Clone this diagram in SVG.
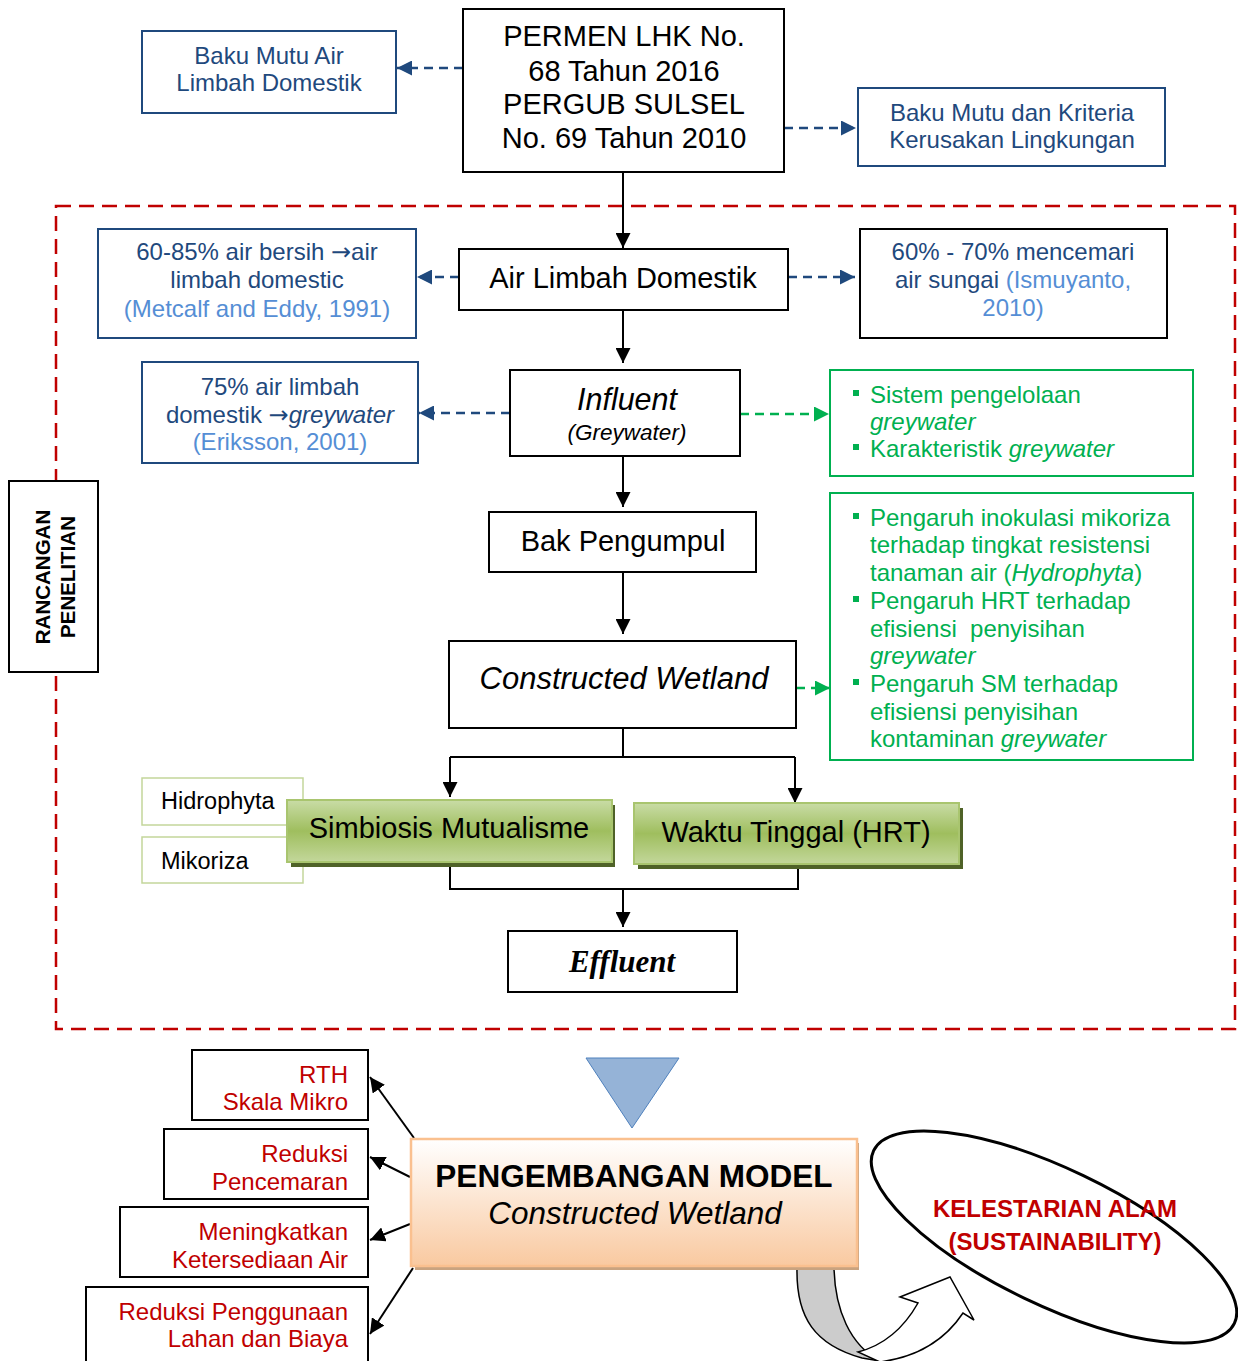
<svg xmlns="http://www.w3.org/2000/svg" width="1238" height="1361" viewBox="0 0 1238 1361">
<defs>
<style>
text{font-family:"Liberation Sans",Arial,"DejaVu Sans",sans-serif}
.box{fill:#fff;stroke:#000;stroke-width:2}
.bbox{fill:#fff;stroke:#1F497D;stroke-width:2}
.gbox{fill:#fff;stroke:#00B050;stroke-width:2}
.lbox{fill:#fff;stroke:#C3D69B;stroke-width:1.5}
.blue{fill:#1F497D;font-size:24px}
.cite{fill:#558ED5}
.green{fill:#00B050;font-size:24px}
.red{fill:#C00000;font-size:24px}
.blk{fill:#000}
.c{text-anchor:middle}
.e{text-anchor:end}
.i{font-style:italic}
.arr{font-family:"DejaVu Sans",sans-serif}
.bl{fill:#00B050}
.ln{fill:none;stroke:#000;stroke-width:2}
.dashb{fill:none;stroke:#1F497D;stroke-width:2.5;stroke-dasharray:9 6}
.dashg{fill:none;stroke:#00B050;stroke-width:2.5;stroke-dasharray:9 6}
</style>
<marker id="ab" markerUnits="userSpaceOnUse" markerWidth="15" markerHeight="15" viewBox="0 0 15 15" refX="15" refY="7.5" orient="auto"><path d="M0,0 L15,7.5 L0,15 z" fill="#000"/></marker>
<marker id="au" markerUnits="userSpaceOnUse" markerWidth="15" markerHeight="15" viewBox="0 0 15 15" refX="15" refY="7.5" orient="auto"><path d="M0,0 L15,7.5 L0,15 z" fill="#1F497D"/></marker>
<marker id="ag" markerUnits="userSpaceOnUse" markerWidth="15" markerHeight="15" viewBox="0 0 15 15" refX="15" refY="7.5" orient="auto"><path d="M0,0 L15,7.5 L0,15 z" fill="#00B050"/></marker>
<linearGradient id="gg" x1="0" y1="0" x2="0" y2="1">
<stop offset="0" stop-color="#C9DCA6"/><stop offset="0.5" stop-color="#9FBE5E"/><stop offset="1" stop-color="#C3D79B"/>
</linearGradient>
<linearGradient id="og" x1="0" y1="0" x2="0" y2="1">
<stop offset="0" stop-color="#FFFFFF"/><stop offset="1" stop-color="#F9C9A0"/>
</linearGradient>
</defs>
<rect width="1238" height="1361" fill="#fff"/>

<!-- research frame -->
<rect id="frame" x="56" y="206" width="1179" height="823" fill="none" stroke="#C00000" stroke-width="2.5" stroke-dasharray="15 8"/>

<g id="connectors">
<line class="dashb" x1="463" y1="68" x2="397" y2="68" marker-end="url(#au)"/>
<line class="dashb" x1="784" y1="128" x2="856" y2="128" marker-end="url(#au)"/>
<line class="ln" x1="623" y1="172" x2="623" y2="248" marker-end="url(#ab)"/>
<line class="dashb" x1="459" y1="277" x2="417" y2="277" marker-end="url(#au)"/>
<line class="dashb" x1="788" y1="277" x2="855" y2="277" marker-end="url(#au)"/>
<line class="ln" x1="623" y1="310" x2="623" y2="363" marker-end="url(#ab)"/>
<line class="dashb" x1="510" y1="413" x2="419" y2="413" marker-end="url(#au)"/>
<line class="dashg" x1="740" y1="414" x2="829" y2="414" marker-end="url(#ag)"/>
<line class="ln" x1="623" y1="456" x2="623" y2="507" marker-end="url(#ab)"/>
<line class="ln" x1="623" y1="572" x2="623" y2="634" marker-end="url(#ab)"/>
<line class="dashg" x1="796" y1="688" x2="830" y2="688" marker-end="url(#ag)"/>
<polyline class="ln" points="623,728 623,757"/>
<polyline class="ln" points="450,757 795,757"/>
<line class="ln" x1="450" y1="757" x2="450" y2="797" marker-end="url(#ab)"/>
<line class="ln" x1="795" y1="757" x2="795" y2="803" marker-end="url(#ab)"/>
<polyline class="ln" points="450,866 450,889 798,889 798,868"/>
<line class="ln" x1="623" y1="889" x2="623" y2="927" marker-end="url(#ab)"/>
<line class="ln" x1="414" y1="1138" x2="370" y2="1077" marker-end="url(#ab)"/>
<line class="ln" x1="410" y1="1177" x2="370" y2="1157" marker-end="url(#ab)"/>
<line class="ln" x1="410" y1="1224" x2="370" y2="1240" marker-end="url(#ab)"/>
<line class="ln" x1="413" y1="1268" x2="370" y2="1334" marker-end="url(#ab)"/>
</g>

<g id="permen">
<rect class="box" x="463" y="9" width="321" height="163"/>
<text class="blk c" x="624" y="46" font-size="29">PERMEN LHK No.</text>
<text class="blk c" x="624" y="81" font-size="29">68 Tahun 2016</text>
<text class="blk c" x="624" y="114" font-size="29">PERGUB SULSEL</text>
<text class="blk c" x="624" y="148" font-size="29">No. 69 Tahun 2010</text>
</g>

<g id="baku-mutu-air">
<rect class="bbox" x="142" y="31" width="254" height="82"/>
<text class="blue c" x="269" y="64">Baku Mutu Air</text>
<text class="blue c" x="269" y="91">Limbah Domestik</text>
</g>

<g id="baku-mutu-kriteria">
<rect class="bbox" x="858" y="88" width="307" height="78"/>
<text class="blue c" x="1012" y="121">Baku Mutu dan Kriteria</text>
<text class="blue c" x="1012" y="148">Kerusakan Lingkungan</text>
</g>

<g id="air-limbah">
<rect class="box" x="459" y="249" width="329" height="61"/>
<text class="blk c" x="623" y="288" font-size="29">Air Limbah Domestik</text>
</g>

<g id="persen-air-bersih">
<rect class="bbox" x="98" y="229" width="318" height="109"/>
<text class="blue c" x="257" y="260">60-85% air bersih <tspan class="arr">→</tspan>air</text>
<text class="blue c" x="257" y="288">limbah domestic</text>
<text class="blue c cite" x="257" y="317">(Metcalf and Eddy, 1991)</text>
</g>

<g id="persen-mencemari">
<rect class="box" x="860" y="229" width="307" height="109"/>
<text class="blue c" x="1013" y="260">60% - 70% mencemari</text>
<text class="blue c" x="1013" y="288">air sungai <tspan class="cite">(Ismuyanto,</tspan></text>
<text class="blue c cite" x="1013" y="316">2010)</text>
</g>

<g id="influent">
<rect class="box" x="510" y="370" width="230" height="86"/>
<text class="blk c i" x="627" y="410" font-size="30.5">Influent</text>
<text class="blk c i" x="627" y="440" font-size="22.5">(Greywater)</text>
</g>

<g id="persen-greywater">
<rect class="bbox" x="142" y="362" width="276" height="101"/>
<text class="blue c" x="280" y="395">75% air limbah</text>
<text class="blue c" x="280" y="423">domestik <tspan class="arr">→</tspan><tspan class="i">greywater</tspan></text>
<text class="blue c cite" x="280" y="450">(Eriksson, 2001)</text>
</g>

<g id="green-sistem">
<rect class="gbox" x="830" y="370" width="363" height="106"/>
<rect class="bl" x="853" y="390" width="6" height="6"/>
<text class="green" x="870" y="403">Sistem pengelolaan</text>
<text class="green i" x="870" y="430">greywater</text>
<rect class="bl" x="853" y="444" width="6" height="6"/>
<text class="green" x="870" y="457">Karakteristik <tspan class="i">greywater</tspan></text>
</g>

<g id="bak-pengumpul">
<rect class="box" x="489" y="512" width="267" height="60"/>
<text class="blk c" x="623" y="551" font-size="29">Bak Pengumpul</text>
</g>

<g id="green-pengaruh">
<rect class="gbox" x="830" y="493" width="363" height="267"/>
<rect class="bl" x="853" y="513" width="6" height="6"/>
<text class="green" x="870" y="526">Pengaruh inokulasi mikoriza</text>
<text class="green" x="870" y="553">terhadap tingkat resistensi</text>
<text class="green" x="870" y="581">tanaman air (<tspan class="i">Hydrophyta</tspan>)</text>
<rect class="bl" x="853" y="596" width="6" height="6"/>
<text class="green" x="870" y="609">Pengaruh HRT terhadap</text>
<text class="green" x="870" y="637" xml:space="preserve">efisiensi  penyisihan</text>
<text class="green i" x="870" y="664">greywater</text>
<rect class="bl" x="853" y="679" width="6" height="6"/>
<text class="green" x="870" y="692">Pengaruh SM terhadap</text>
<text class="green" x="870" y="720">efisiensi penyisihan</text>
<text class="green" x="870" y="747">kontaminan <tspan class="i">greywater</tspan></text>
</g>

<g id="constructed-wetland">
<rect class="box" x="449" y="641" width="347" height="87"/>
<text class="blk c i" x="624" y="689" font-size="31">Constructed Wetland</text>
</g>

<g id="rancangan">
<rect class="box" x="9" y="481" width="89" height="191"/>
<text class="blk c" transform="translate(50,577) rotate(-90)" font-size="20.5" font-weight="bold">RANCANGAN</text>
<text class="blk c" transform="translate(75,577) rotate(-90)" font-size="20.5" font-weight="bold">PENELITIAN</text>
</g>

<g id="hidrophyta">
<rect class="lbox" x="142" y="778" width="161" height="47"/>
<text class="blk" x="161" y="809" font-size="23.5">Hidrophyta</text>
</g>
<g id="mikoriza">
<rect class="lbox" x="142" y="837" width="161" height="46"/>
<text class="blk" x="161" y="869" font-size="23.5">Mikoriza</text>
</g>

<g id="simbiosis">
<rect x="291" y="805" width="324" height="62" fill="#4F6228"/>
<rect x="287" y="800" width="325" height="62" fill="url(#gg)" stroke="#A9C56F" stroke-width="2"/>
<text class="blk c" x="449" y="838" font-size="29">Simbiosis Mutualisme</text>
</g>

<g id="waktu-tinggal">
<rect x="638" y="808" width="325" height="61" fill="#4F6228"/>
<rect x="634" y="803" width="325" height="61" fill="url(#gg)" stroke="#A9C56F" stroke-width="2"/>
<text class="blk c" x="796" y="842" font-size="29">Waktu Tinggal (HRT)</text>
</g>

<g id="effluent">
<rect class="box" x="508" y="931" width="229" height="61"/>
<text class="blk c" x="622" y="972" font-size="31" font-weight="bold" font-style="italic" style="font-family:'Liberation Serif','Times New Roman',serif">Effluent</text>
</g>

<g id="triangle">
<polygon points="586,1058 679,1058 632,1128" fill="#95B3D7" stroke="#4F81BD" stroke-width="1"/>
</g>

<g id="curved-arrow">
<path d="M797,1268 C796,1318 815,1345 862,1358 L880,1361 C850,1345 835,1310 834,1268 Z" fill="#CCCCCC" stroke="#000" stroke-width="1.5"/>
<path d="M858,1352 C885,1345 905,1326 918,1303 L900,1297 L950,1277 L974,1320 L963,1313 C945,1340 918,1357 880,1362 Z" fill="#fff" stroke="#000" stroke-width="1.5"/>
</g>

<g id="pengembangan">
<rect x="415" y="1143" width="444" height="127" fill="#C9A37F"/>
<rect x="411" y="1139" width="446" height="127" fill="url(#og)" stroke="#FAC08F" stroke-width="2.5"/>
<text class="blk c" x="634" y="1187" font-size="31.5" font-weight="bold">PENGEMBANGAN MODEL</text>
<text class="blk c i" x="635" y="1224" font-size="31.5">Constructed Wetland</text>
</g>

<g id="rth">
<rect class="box" x="192" y="1050" width="176" height="70" stroke-width="1.5"/>
<text class="red e" x="348" y="1083">RTH</text>
<text class="red e" x="348" y="1110">Skala Mikro</text>
</g>
<g id="reduksi-pencemaran">
<rect class="box" x="164" y="1129" width="204" height="70" stroke-width="1.5"/>
<text class="red e" x="348" y="1162">Reduksi</text>
<text class="red e" x="348" y="1190">Pencemaran</text>
</g>
<g id="meningkatkan">
<rect class="box" x="120" y="1207" width="248" height="70" stroke-width="1.5"/>
<text class="red e" x="348" y="1240">Meningkatkan</text>
<text class="red e" x="348" y="1268">Ketersediaan Air</text>
</g>
<g id="reduksi-lahan">
<rect class="box" x="86" y="1287" width="282" height="80" stroke-width="1.5"/>
<text class="red e" x="348" y="1320">Reduksi Penggunaan</text>
<text class="red e" x="348" y="1347">Lahan dan Biaya</text>
</g>

<g id="kelestarian">
<ellipse cx="1054" cy="1237" rx="200" ry="68" transform="rotate(25.6 1054 1237)" fill="none" stroke="#000" stroke-width="3"/>
<text class="red c" x="1055" y="1217" font-weight="bold">KELESTARIAN ALAM</text>
<text class="red c" x="1055" y="1250" font-weight="bold">(SUSTAINABILITY)</text>
</g>
</svg>
